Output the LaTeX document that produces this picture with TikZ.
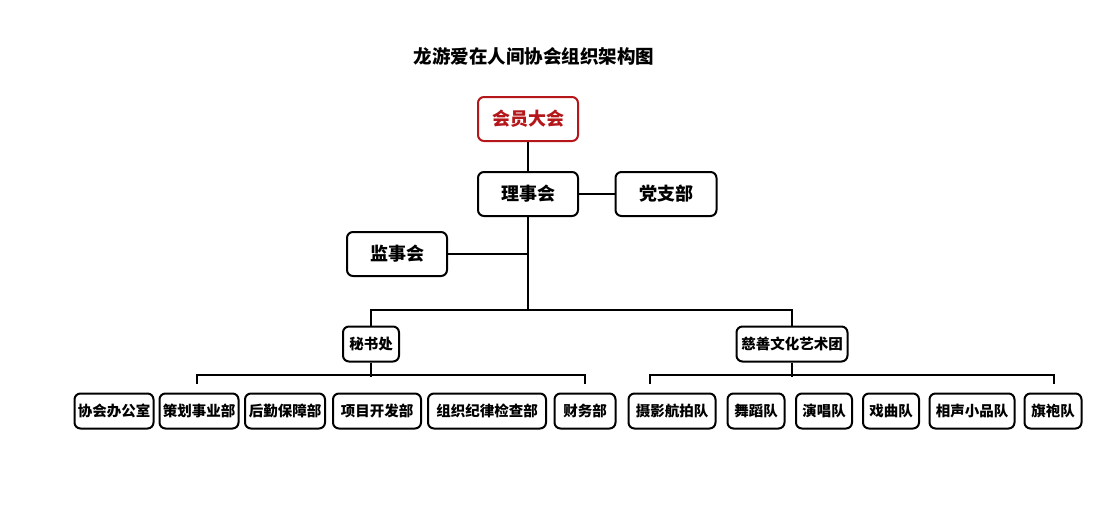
\documentclass[tikz,border=0pt]{standalone}
\usepackage{fontspec}
\setmainfont{Noto Sans CJK SC}
\definecolor{hyred}{RGB}{180,22,26}

\begin{document}
\begin{tikzpicture}[x=1pt,y=-1pt,line width=2pt,
	orgbox/.style={draw,rounded corners=6pt,inner sep=0pt,minimum width=100pt,minimum height=44pt,font=\bfseries\fontsize{18}{18}\selectfont},
	leafbox/.style={orgbox,minimum height=35pt,font=\bfseries\fontsize{14.5}{14.5}\selectfont}]
	\useasboundingbox (0,0) rectangle (1100,528);
	\node[font=\bfseries\fontsize{18.5}{18.5}\selectfont] (title) at (534,56) {龙游爱在人间协会组织架构图};
	
	\node[orgbox,draw=hyred,text=hyred]	(huiyuan)	at (528,119)	{会员大会};
	\node[orgbox]						(lishi)		at (528,194)	{理事会};
	\node[orgbox,minimum width=101pt]	(dangzhi)	at (666,194)	{党支部};
	\node[orgbox]						(jianshi)	at (397,254)	{监事会};
	
	\node[leafbox,minimum width=56pt]	(mishu)		at (371,344)	{秘书处};
	\node[leafbox,minimum width=111pt]	(cishan)	at (792,344)	{慈善文化艺术团};
	
	\node[leafbox,minimum width=79pt]	(bangong)	at (114,411)	{协会办公室};
	\node[leafbox,minimum width=79pt]	(cehua)		at (199,411)	{策划事业部};
	\node[leafbox,minimum width=80pt]	(houqin)	at (285,411)	{后勤保障部};
	\node[leafbox,minimum width=88pt]	(xiangmu)	at (377,411)	{项目开发部};
	\node[leafbox,minimum width=118pt]	(jilv)		at (487,411)	{组织纪律检查部};
	\node[leafbox,minimum width=61pt]	(caiwu)		at (585,411)	{财务部};
	
	\node[leafbox,minimum width=87pt]	(sheying)	at (672,411)	{摄影航拍队};
	\node[leafbox,minimum width=57pt]	(wudao)		at (756,411)	{舞蹈队};
	\node[leafbox,minimum width=56pt]	(yanchang)	at (824,411)	{演唱队};
	\node[leafbox,minimum width=56pt]	(xiqu)		at (891,411)	{戏曲队};
	\node[leafbox,minimum width=85pt]	(xiaopin)	at (972,411)	{相声小品队};
	\node[leafbox,minimum width=57pt]	(qipao)		at (1053,411)	{旗袍队};
	
	\coordinate (hub)	at (528,310);
	\coordinate (secL)	at (197,384);
	\coordinate (secR)	at (585,384);
	\coordinate (artL)	at (650,384);
	\coordinate (artR)	at (1054,384);
	
	\draw (huiyuan) -- (lishi);
	\draw (lishi) -- (dangzhi);
	\draw (lishi) -- (hub);
	\draw (jianshi.east) -- (jianshi.east -| hub);
	\draw (mishu.north) |- (hub) -| (cishan.north);
	\draw (secL) -- ++(0,-9) -| (secR);
	\draw (mishu.south) -- ++(0,14);
	\draw (artL) -- ++(0,-9) -| (artR);
	\draw (cishan.south) -- ++(0,14);
\end{tikzpicture}
\end{document}
